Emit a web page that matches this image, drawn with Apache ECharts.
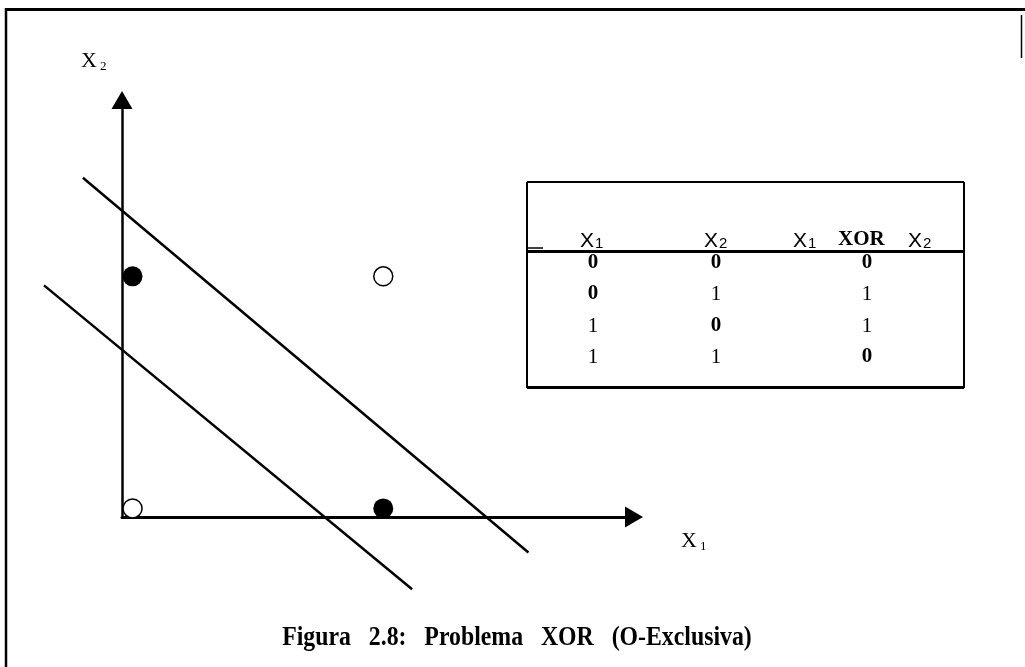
<!DOCTYPE html>
<html>
<head>
<meta charset="utf-8">
<title>Figura 2.8: Problema XOR</title>
<script src="https://cdn.jsdelivr.net/npm/echarts@6/dist/echarts.min.js"></script>
<style>
    html, body { margin: 0; padding: 0; background: #fff; }
    #chart { width: 1025px; height: 667px; }
</style>
</head>
<body>
<div id="chart"></div>
<script>
// tabela verdade
var x1Col = [0, 0, 1, 1];
var x2Col = [0, 1, 0, 1];
var xorCol = [0, 1, 1, 0];

// retas de separacao (extremos em coordenadas do plano x1, x2)
var line1 = [[-0.198, 1.425], [1.579, -0.19]];
var line2 = [[-0.353, 0.961], [1.115, -0.348]];

// limites dos eixos
var xRange = [-0.042, 2.0];
var yRange = [-0.037, 1.76];

var caption = 'Figura   2.8:   Problema   XOR   (O-Exclusiva)';

var filledPts = [], hollowPts = [];
for (var i = 0; i < x1Col.length; i++) {
    if (xorCol[i] === 1) {
        filledPts.push([x1Col[i], x2Col[i]]);
    } else {
        hollowPts.push([x1Col[i], x2Col[i]]);
    }
}

// grade principal (eixos) e grade maior com a mesma escala para as retas
var g0 = {left: 122, top: 100, right: 391, bottom: 150};
var g1 = {left: 30, top: 100, right: 391, bottom: 67};
var W = 1025, H = 667;
var kx = (W - g0.left - g0.right) / (xRange[1] - xRange[0]);
var ky = (H - g0.top - g0.bottom) / (yRange[1] - yRange[0]);
var x1Min = xRange[1] - (W - g1.left - g1.right) / kx;
var y1Min = yRange[1] - (H - g1.top - g1.bottom) / ky;

var serif = '"Liberation Serif", "Times New Roman", serif';
var sans = '"Liberation Sans", Arial, sans-serif';

function seg(x1, y1, x2, y2, w) {
    return {
        type: 'line', silent: true,
        shape: {x1: x1, y1: y1, x2: x2, y2: y2},
        style: {stroke: '#000', lineWidth: w}
    };
}
function txt(x, y, s, size, family, weight, align) {
    return {
        type: 'text', silent: true, x: x, y: y,
        style: {
            text: s, fill: '#000', fontSize: size, fontFamily: family,
            fontWeight: weight || 'normal', align: align || 'left', verticalAlign: 'middle'
        }
    };
}

var capText = txt(517, 638, caption, 28, serif, 'bold', 'center');
capText.scaleX = 0.85;

var graphics = [
    // moldura
    seg(5, 9.5, 1025, 9.5, 3),
    seg(6, 8, 6, 667, 2.5),
    seg(1021.5, 15, 1021.5, 58, 1.5),
    // tabela
    seg(527, 182, 964, 182, 2),
    seg(527, 182, 527, 388, 2),
    seg(964, 182, 964, 388, 2),
    seg(527, 387.5, 964, 387.5, 3),
    seg(527, 251.5, 964, 251.5, 3),
    seg(528, 248, 543, 248, 1.5),
    // rotulos dos eixos
    txt(81, 61, 'X', 22, serif),
    txt(100, 67, '2', 13, serif),
    txt(681, 541, 'X', 22, serif),
    txt(700, 547, '1', 13, serif),
    // cabecalho
    txt(580, 241, 'X', 21, sans),
    txt(595, 244, '1', 15, sans),
    txt(704, 241, 'X', 21, sans),
    txt(719, 244, '2', 15, sans),
    txt(793, 241, 'X', 21, sans),
    txt(808, 244, '1', 15, sans),
    txt(838, 240, 'XOR', 21, serif, 'bold'),
    txt(908, 241, 'X', 21, sans),
    txt(923, 244, '2', 15, sans),
    // legenda
    capText
];

var colX = [593, 716, 867];
var rowY = [263, 294, 326, 357];
var cols = [x1Col, x2Col, xorCol];
for (var c = 0; c < cols.length; c++) {
    for (var r = 0; r < rowY.length; r++) {
        var v = cols[c][r];
        graphics.push(txt(colX[c], rowY[r], String(v), 21, serif, v === 0 ? 'bold' : 'normal', 'center'));
    }
}

var myChart = echarts.init(document.getElementById('chart'), null, {renderer: 'canvas'});

var hiddenAxis = {
    axisLine: {show: false},
    axisTick: {show: false},
    axisLabel: {show: false},
    splitLine: {show: false}
};

var option = {
    animation: false,
    backgroundColor: '#fff',
    grid: [
        {left: g0.left, top: g0.top, right: g0.right, bottom: g0.bottom, containLabel: false},
        {left: g1.left, top: g1.top, right: g1.right, bottom: g1.bottom, containLabel: false}
    ],
    xAxis: [
        {
            type: 'value', gridIndex: 0, min: xRange[0], max: xRange[1],
            axisLine: {
                show: true, onZero: false,
                symbol: ['none', 'triangle'], symbolSize: [21, 18],
                lineStyle: {color: '#000', width: 3}
            },
            axisTick: {show: false},
            axisLabel: {show: false},
            splitLine: {show: false}
        },
        Object.assign({type: 'value', gridIndex: 1, min: x1Min, max: xRange[1]}, hiddenAxis)
    ],
    yAxis: [
        {
            type: 'value', gridIndex: 0, min: yRange[0], max: yRange[1],
            axisLine: {
                show: true, onZero: false,
                symbol: ['none', 'triangle'], symbolSize: [21, 18],
                lineStyle: {color: '#000', width: 2.5}
            },
            axisTick: {show: false},
            axisLabel: {show: false},
            splitLine: {show: false}
        },
        Object.assign({type: 'value', gridIndex: 1, min: y1Min, max: yRange[1]}, hiddenAxis)
    ],
    series: [
        {
            type: 'line', xAxisIndex: 1, yAxisIndex: 1, data: line1,
            showSymbol: false, clip: false, silent: true,
            lineStyle: {color: '#000', width: 2.5}
        },
        {
            type: 'line', xAxisIndex: 1, yAxisIndex: 1, data: line2,
            showSymbol: false, clip: false, silent: true,
            lineStyle: {color: '#000', width: 2.5}
        },
        {
            type: 'scatter', xAxisIndex: 0, yAxisIndex: 0, data: filledPts,
            symbolSize: 20, z: 5, silent: true,
            itemStyle: {color: '#000', opacity: 1}
        },
        {
            type: 'scatter', xAxisIndex: 0, yAxisIndex: 0, data: hollowPts,
            symbolSize: 19, z: 5, silent: true,
            itemStyle: {color: '#fff', borderColor: '#000', borderWidth: 1.5, opacity: 1}
        }
    ],
    graphic: graphics
};

myChart.setOption(option);
</script>
</body>
</html>
